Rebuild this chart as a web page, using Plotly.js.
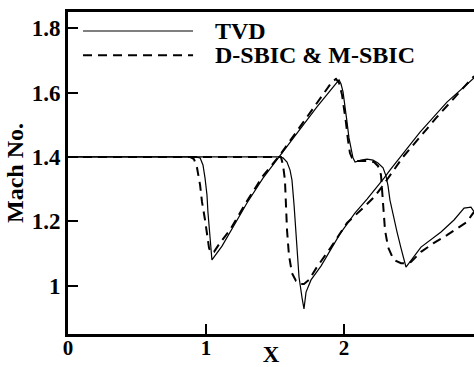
<!DOCTYPE html>
<html><head><meta charset="utf-8">
<script src="https://cdn.plot.ly/plotly-3.0.1.min.js"></script>
<style>html,body{margin:0;padding:0;background:#fff;overflow:hidden}#chart{width:474px;height:367px}</style>
</head><body><div id="chart"></div>
<script>
// TVD, first wave
const tvdX1 = [0, 0.920, 0.957, 0.978, 0.993, 1.007, 1.014, 1.029, 1.043, 1.116, 1.174, 1.297, 1.413, 1.536, 1.681, 1.804, 1.964, 1.978, 1.993, 2.007, 2.022, 2.036, 2.051, 2.065, 2.080, 2.123, 2.167, 2.210, 2.246, 2.283, 2.304, 2.319, 2.333, 2.355, 2.384, 2.413, 2.435, 2.449, 2.558, 2.703, 2.797, 2.870, 2.920, 2.942];
const tvdY1 = [1.400, 1.400, 1.397, 1.375, 1.334, 1.282, 1.229, 1.157, 1.080, 1.123, 1.167, 1.257, 1.334, 1.403, 1.487, 1.555, 1.639, 1.627, 1.602, 1.561, 1.508, 1.459, 1.421, 1.397, 1.384, 1.390, 1.393, 1.390, 1.381, 1.366, 1.341, 1.310, 1.266, 1.220, 1.167, 1.117, 1.080, 1.058, 1.120, 1.167, 1.204, 1.241, 1.244, 1.230];
// TVD, second wave
const tvdX2 = [0, 1.522, 1.558, 1.587, 1.609, 1.623, 1.638, 1.652, 1.674, 1.696, 1.710, 1.725, 1.761, 1.833, 1.899, 1.971, 2.080, 2.167, 2.290, 2.333, 2.551, 2.746, 2.942];
const tvdY2 = [1.400, 1.400, 1.397, 1.384, 1.359, 1.328, 1.251, 1.173, 1.027, 0.962, 0.928, 0.980, 1.018, 1.061, 1.108, 1.161, 1.226, 1.269, 1.334, 1.359, 1.477, 1.570, 1.645];
// D-SBIC & M-SBIC, first wave
const sbicX1 = [0, 0.884, 0.913, 0.935, 0.957, 0.971, 0.993, 1.007, 1.022, 1.036, 1.058, 1.101, 1.174, 1.297, 1.413, 1.536, 1.681, 1.804, 1.913, 1.942, 1.964, 1.986, 2.000, 2.014, 2.029, 2.043, 2.058, 2.087, 2.130, 2.174, 2.217, 2.246, 2.268, 2.275, 2.283, 2.297, 2.319, 2.348, 2.377, 2.413, 2.449, 2.486, 2.558, 2.652, 2.746, 2.848, 2.891, 2.920, 2.942];
const sbicY1 = [1.400, 1.400, 1.393, 1.366, 1.313, 1.260, 1.204, 1.157, 1.117, 1.102, 1.105, 1.133, 1.173, 1.263, 1.341, 1.406, 1.493, 1.567, 1.633, 1.642, 1.630, 1.592, 1.555, 1.508, 1.452, 1.412, 1.397, 1.387, 1.387, 1.387, 1.384, 1.372, 1.344, 1.297, 1.235, 1.173, 1.120, 1.092, 1.077, 1.070, 1.070, 1.074, 1.105, 1.133, 1.157, 1.185, 1.198, 1.216, 1.229];
// D-SBIC & M-SBIC, second wave
const sbicX2 = [0, 1.543, 1.558, 1.572, 1.587, 1.601, 1.623, 1.652, 1.681, 1.710, 1.746, 1.804, 1.906, 2.022, 2.145, 2.217, 2.275, 2.428, 2.674, 2.913, 2.942];
const sbicY2 = [1.400, 1.400, 1.375, 1.328, 1.173, 1.095, 1.039, 1.015, 1.005, 1.005, 1.018, 1.058, 1.120, 1.195, 1.244, 1.275, 1.307, 1.400, 1.524, 1.639, 1.651];

const seriesNames = ['TVD', 'D-SBIC & M-SBIC'];
const xTicks = [0, 1, 2];
const yTicks = [1, 1.2, 1.4, 1.6, 1.8];

const FONT = 'Liberation Serif, Times New Roman, serif';
const solid = {color: '#000', width: 1.2};
const dashed = {color: '#000', width: 2, dash: '9px,6px'};

const traces = [
  {x: tvdX1, y: tvdY1, mode: 'lines', name: seriesNames[0], line: solid},
  {x: tvdX2, y: tvdY2, mode: 'lines', name: seriesNames[0], line: solid},
  {x: sbicX1, y: sbicY1, mode: 'lines', name: seriesNames[1], line: dashed},
  {x: sbicX2, y: sbicY2, mode: 'lines', name: seriesNames[1], line: dashed}
];

const layout = {
  width: 474, height: 367,
  margin: {l: 68, r: 0, t: 12, b: 33},
  paper_bgcolor: '#fff', plot_bgcolor: '#fff',
  showlegend: false,
  font: {family: FONT, color: '#000', size: 22, weight: 'bold'},
  xaxis: {
    range: [0, 2.942], tickvals: xTicks, ticktext: xTicks.map(String),
    showgrid: false, zeroline: false,
    showline: true, linewidth: 3, linecolor: '#000', mirror: true,
    ticks: 'inside', ticklen: 10, tickwidth: 2, tickcolor: '#000',
    ticklabelstandoff: -7,
    tickfont: {family: FONT, size: 21, weight: 'bold', color: '#000'},
    title: {text: 'X', font: {family: FONT, size: 23, weight: 'bold', color: '#000'}, standoff: 11},
    automargin: false
  },
  yaxis: {
    range: [0.85, 1.85], tickvals: yTicks, ticktext: yTicks.map(v => String(v)),
    showgrid: false, zeroline: false,
    showline: true, linewidth: 3, linecolor: '#000',
    ticks: 'inside', ticklen: 10, tickwidth: 2, tickcolor: '#000',
    tickfont: {family: FONT, size: 23, weight: 'bold', color: '#000'},
    title: {text: 'Mach No.', font: {family: FONT, size: 24, weight: 'bold', color: '#000'}, standoff: 2},
    automargin: false
  },
  shapes: [
    {type: 'line', xref: 'paper', yref: 'paper', x0: 0.037, x1: 0.308, y0: 0.941, y1: 0.941, line: solid},
    {type: 'line', xref: 'paper', yref: 'paper', x0: 0.037, x1: 0.308, y0: 0.866, y1: 0.866, line: dashed}
  ],
  annotations: [
    {xref: 'paper', yref: 'paper', x: 0.357, y: 0.941, xanchor: 'left', yanchor: 'middle', showarrow: false, text: seriesNames[0], font: {family: FONT, size: 24, weight: 'bold', color: '#000'}},
    {xref: 'paper', yref: 'paper', x: 0.357, y: 0.866, xanchor: 'left', yanchor: 'middle', showarrow: false, text: seriesNames[1], font: {family: FONT, size: 24, weight: 'bold', color: '#000'}}
  ]
};

Plotly.newPlot('chart', traces, layout, {staticPlot: true, displayModeBar: false});
</script>
</body></html>
